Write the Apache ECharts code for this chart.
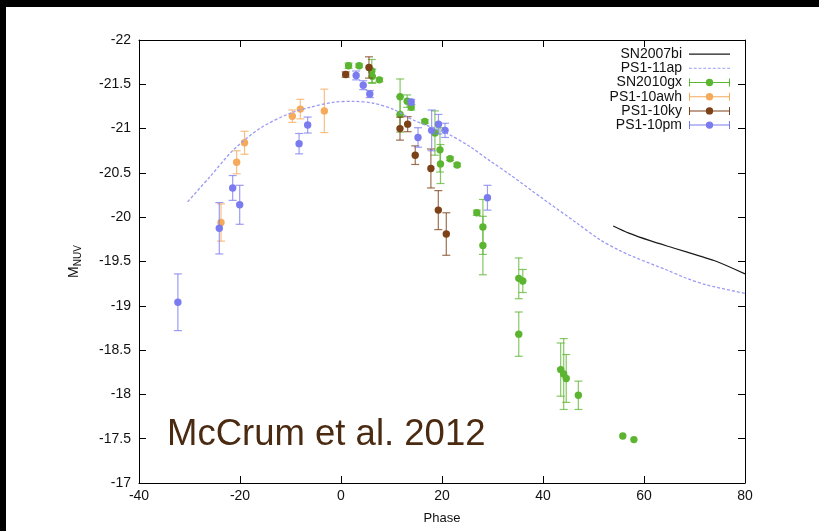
<!DOCTYPE html>
<html>
<head>
<meta charset="utf-8">
<script src="https://cdn.jsdelivr.net/npm/echarts@6/dist/echarts.min.js"></script>
<style>
  html, body { margin: 0; padding: 0; background: #000; width: 819px; height: 531px; overflow: hidden; }
  #chart { position: absolute; left: 6px; top: 7px; width: 813px; height: 524px; background: #fff; }
</style>
</head>
<body>
<div id="chart"></div>
<script>
// Rest-frame phase (days) and NUV absolute magnitude with 1-sigma errors
const sn2010gxPhase = [1.5, 3.6, 6.1, 6.2, 7.6, 11.7, 11.7, 13.1, 13.9, 16.6, 18.6, 19.6, 19.7, 21.6, 23.0, 26.9, 28.1, 28.1, 35.2, 36.0, 35.2, 43.5, 44.1, 44.6, 47.0, 55.8, 58.0];
const sn2010gxMag   = [-21.71, -21.71, -21.65, -21.59, -21.55, -21.36, -21.16, -21.31, -21.24, -21.08, -20.95, -20.76, -20.60, -20.66, -20.59, -20.05, -19.89, -19.68, -19.31, -19.28, -18.68, -18.28, -18.23, -18.18, -17.99, -17.53, -17.49];
const sn2010gxErr   = [0.03, 0.02, 0.13, 0.08, 0.02, 0.20, 0.20, 0.07, 0.03, 0.02, 0.25, 0.25, 0.22, 0.02, 0.02, 0.03, 0.31, 0.33, 0.23, 0.13, 0.25, 0.30, 0.40, 0.27, 0.16, 0, 0];

const awhPhase = [-23.76, -20.66, -19.1, -9.64, -8.05, -3.3];
const awhMag   = [-19.94, -20.62, -20.84, -21.14, -21.22, -21.20];
const awhErr   = [0.21, 0.13, 0.13, 0.07, 0.11, 0.245];

const kyPhase = [0.93, 5.54, 11.68, 13.2, 14.7, 17.8, 19.27, 20.85];
const kyMag   = [-21.61, -21.69, -21.0, -21.05, -20.70, -20.55, -20.08, -19.81];
const kyErr   = [0.03, 0.12, 0.13, 0.085, 0.105, 0.22, 0.22, 0.24];

const pmPhase = [-32.3, -24.1, -21.45, -20.06, -8.3, -6.6, 3.0, 4.4, 5.7, 13.9, 15.25, 17.95, 19.3, 20.6, 29.0];
const pmMag   = [-19.04, -19.875, -20.33, -20.14, -20.83, -21.04, -21.60, -21.49, -21.39, -21.30, -20.90, -20.98, -21.05, -20.98, -20.22];
const pmErr   = [0.32, 0.29, 0.14, 0.22, 0.115, 0.09, 0.05, 0.05, 0.04, 0.03, 0.11, 0.23, 0.11, 0.08, 0.14];

// Template light curves
const sn2007biPhase = [53.9, 57, 61.2, 66, 71.1, 74.4, 80];
const sn2007biMag   = [-19.90, -19.82, -19.735, -19.65, -19.56, -19.50, -19.36];

const ps11apPhase = [-30.36, -25.94, -21.33, -16.04, -10.10, -6.14, -1.53, 2.44, 6.40, 10.36, 14.32, 20.93, 25.54, 29.50, 33.47, 40.06, 46.67, 51.29, 55.25, 57.88, 64.50, 68.46, 72.48, 80.0];
const ps11apMag   = [-20.175, -20.457, -20.758, -21.003, -21.173, -21.240, -21.297, -21.308, -21.286, -21.218, -21.097, -20.947, -20.796, -20.636, -20.48, -20.205, -19.935, -19.745, -19.622, -19.554, -19.404, -19.31, -19.235, -19.14];

const xTicks = { min: -40, max: 80, interval: 20 };
const yTicks = { min: -22, max: -17, interval: 0.5 };

const FONT = '"Liberation Sans", Arial, Helvetica, sans-serif';

function zip3(a, b, c) { return a.map((v, i) => [v, b[i], c[i]]); }
function zip2(a, b) { return a.map((v, i) => [v, b[i]]); }

const colors = {
  gx: '#5cb531',
  awh: '#f6aa5c',
  ky: '#7d4118',
  pm: '#7b7bf0',
  bi: '#1a1a1a',
  ap: '#9a9af5'
};

function errRender(params, api) {
  const x = api.value(0), y = api.value(1), e = api.value(2);
  const c = api.coord([x, y]);
  const color = api.visual('color');
  const children = [];
  if (e > 0) {
    const t = api.coord([x, y - e]);
    const b = api.coord([x, y + e]);
    const ls = { stroke: color, lineWidth: 1.2, opacity: 0.75 };
    children.push({ type: 'line', shape: { x1: c[0], y1: t[1], x2: c[0], y2: b[1] }, style: ls });
    children.push({ type: 'line', shape: { x1: c[0] - 4, y1: t[1], x2: c[0] + 4, y2: t[1] }, style: ls });
    children.push({ type: 'line', shape: { x1: c[0] - 4, y1: b[1], x2: c[0] + 4, y2: b[1] }, style: ls });
  }
  children.push({ type: 'circle', shape: { cx: c[0], cy: c[1], r: 3.7 }, style: { fill: color } });
  return { type: 'group', children };
}

function errSeries(name, color, data) {
  return {
    name, type: 'custom', renderItem: errRender, data,
    itemStyle: { color },
    encode: { x: 0, y: 1 },
    clip: true
  };
}

// Legend sample icons (41 x 12 boxes)
const B = 'M0,0 M41,12 ';
const solidIcon = 'path://' + B + 'M0,5.4 h41 v1.2 h-41 Z';
let dashIcon = 'path://' + B;
for (let i = 0; i < 41; i += 5) dashIcon += 'M' + i + ',5.4 h3 v1.2 h-3 Z ';
const errIcon = 'path://' + B +
  'M0,2 h1 v8 h-1 Z M40,2 h1 v8 h-1 Z ' +
  'M1,5.5 h16 v1 h-16 Z M24,5.5 h16 v1 h-16 Z ' +
  'M24.2,6 A3.7,3.7 0 1 1 16.8,6 A3.7,3.7 0 1 1 24.2,6 Z';

const chart = echarts.init(document.getElementById('chart'), null, { renderer: 'canvas' });

const axisCommon = {
  axisLine: { show: true, onZero: false, lineStyle: { color: '#000', width: 1 } },
  axisTick: { show: true, inside: true, length: 7, lineStyle: { color: '#000' } },
  splitLine: { show: false }
};

chart.setOption({
  backgroundColor: '#fff',
  animation: false,
  grid: { left: 133, top: 33, right: 74, bottom: 48 },
  xAxis: [
    Object.assign({
      type: 'value', position: 'bottom', min: xTicks.min, max: xTicks.max, interval: xTicks.interval,
      axisLabel: { color: '#111', fontFamily: FONT, fontSize: 14, margin: 6 },
      name: 'Phase', nameLocation: 'middle', nameGap: 29,
      nameTextStyle: { color: '#111', fontFamily: FONT, fontSize: 13 }
    }, axisCommon),
    Object.assign({
      type: 'value', position: 'top', min: xTicks.min, max: xTicks.max, interval: xTicks.interval,
      axisLabel: { show: false }
    }, axisCommon)
  ],
  yAxis: [
    Object.assign({
      type: 'value', position: 'left', inverse: true, min: yTicks.min, max: yTicks.max, interval: yTicks.interval,
      axisLabel: { color: '#111', fontFamily: FONT, fontSize: 14, margin: 8 },
      name: '{a|M}{b|NUV}', nameLocation: 'middle', nameGap: 56, nameRotate: 90,
      nameTextStyle: {
        color: '#111', fontFamily: FONT,
        rich: {
          a: { fontSize: 14, fontFamily: FONT, color: '#111' },
          b: { fontSize: 10, fontFamily: FONT, color: '#111', verticalAlign: 'bottom', padding: [7, 0, 0, 0] }
        }
      }
    }, axisCommon),
    Object.assign({
      type: 'value', position: 'right', inverse: true, min: yTicks.min, max: yTicks.max, interval: yTicks.interval,
      axisLabel: { show: false }
    }, axisCommon)
  ],
  legend: {
    orient: 'vertical', right: 84, top: 35, align: 'right',
    itemWidth: 41, itemHeight: 12, itemGap: 0,
    textStyle: { color: '#111', fontFamily: FONT, fontSize: 14, lineHeight: 14.2, padding: [0, 2, 0, 0] },
    data: [
      { name: 'SN2007bi', icon: solidIcon },
      { name: 'PS1-11ap', icon: dashIcon },
      { name: 'SN2010gx', icon: errIcon },
      { name: 'PS1-10awh', icon: errIcon },
      { name: 'PS1-10ky', icon: errIcon },
      { name: 'PS1-10pm', icon: errIcon }
    ]
  },
  graphic: [{
    type: 'text', left: 161, top: 409, z: 10,
    style: { text: 'McCrum et al. 2012', fill: '#4b2a12', font: '36.5px ' + FONT }
  }],
  series: [
    {
      name: 'SN2007bi', type: 'line', data: zip2(sn2007biPhase, sn2007biMag), smooth: 0.3,
      symbol: 'none', itemStyle: { color: colors.bi }, lineStyle: { color: colors.bi, width: 1.2 }
    },
    {
      name: 'PS1-11ap', type: 'line', data: zip2(ps11apPhase, ps11apMag), smooth: 0.3,
      symbol: 'none', itemStyle: { color: colors.ap }, lineStyle: { color: colors.ap, width: 1.3, type: [3, 2] }
    },
    errSeries('SN2010gx', colors.gx, zip3(sn2010gxPhase, sn2010gxMag, sn2010gxErr)),
    errSeries('PS1-10awh', colors.awh, zip3(awhPhase, awhMag, awhErr)),
    errSeries('PS1-10ky', colors.ky, zip3(kyPhase, kyMag, kyErr)),
    errSeries('PS1-10pm', colors.pm, zip3(pmPhase, pmMag, pmErr))
  ]
});
</script>
</body>
</html>
